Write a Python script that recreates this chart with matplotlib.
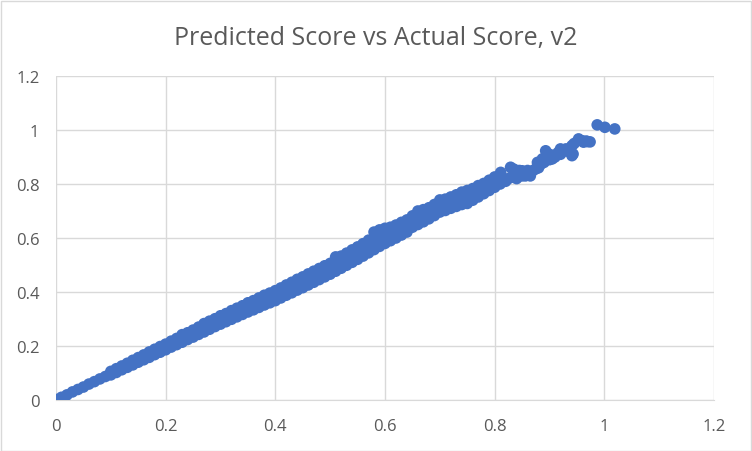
import matplotlib
matplotlib.use("Agg")
import matplotlib.pyplot as plt
from matplotlib.patches import Rectangle

# actual score (x) for the three dense tracks of the cloud
actual_mid = [0.00, 0.01, 0.02, 0.03, 0.04, 0.05, 0.06, 0.07, 0.08, 0.09,
              0.10, 0.11, 0.12, 0.13, 0.14, 0.15, 0.16, 0.17, 0.18, 0.19,
              0.20, 0.21, 0.22, 0.23, 0.24, 0.25, 0.26, 0.27, 0.28, 0.29,
              0.30, 0.31, 0.32, 0.33, 0.34, 0.35, 0.36, 0.37, 0.38, 0.39,
              0.40, 0.41, 0.42, 0.43, 0.44, 0.45, 0.46, 0.47, 0.48, 0.49,
              0.50, 0.51, 0.52, 0.53, 0.54, 0.55, 0.56, 0.57, 0.58, 0.59,
              0.60, 0.61, 0.62, 0.63, 0.64, 0.65, 0.66, 0.67, 0.68, 0.69,
              0.70, 0.71, 0.72, 0.73, 0.74, 0.75, 0.76, 0.77, 0.78, 0.79,
              0.80]
pred_mid = [0.002, 0.010, 0.019, 0.030, 0.039, 0.048, 0.059, 0.068, 0.078, 0.087,
            0.098, 0.108, 0.118, 0.127, 0.138, 0.147, 0.157, 0.167, 0.177, 0.187,
            0.196, 0.206, 0.216, 0.227, 0.236, 0.245, 0.256, 0.265, 0.276, 0.285,
            0.296, 0.304, 0.315, 0.323, 0.332, 0.343, 0.350, 0.360, 0.370, 0.378,
            0.386, 0.396, 0.407, 0.416, 0.427, 0.436, 0.446, 0.456, 0.466, 0.476,
            0.486, 0.500, 0.510, 0.521, 0.533, 0.544, 0.556, 0.568, 0.590, 0.600,
            0.608, 0.615, 0.624, 0.634, 0.645, 0.661, 0.675, 0.682, 0.691, 0.703,
            0.718, 0.723, 0.731, 0.738, 0.747, 0.752, 0.762, 0.773, 0.783, 0.795,
            0.807]

actual_hi = [0.10, 0.11, 0.12, 0.13, 0.14, 0.15, 0.16, 0.17, 0.18, 0.19,
             0.20, 0.21, 0.22, 0.23, 0.24, 0.25, 0.26, 0.27, 0.28, 0.29,
             0.30, 0.31, 0.32, 0.33, 0.34, 0.35, 0.36, 0.37, 0.38, 0.39,
             0.40, 0.41, 0.42, 0.43, 0.44, 0.45, 0.46, 0.47, 0.48, 0.49,
             0.50, 0.51, 0.52, 0.53, 0.54, 0.55, 0.56, 0.57, 0.58, 0.59,
             0.60, 0.61, 0.62, 0.63, 0.64, 0.65, 0.66, 0.67, 0.68, 0.69,
             0.70, 0.71, 0.72, 0.73, 0.74, 0.75, 0.76, 0.77, 0.78, 0.79,
             0.80]
pred_hi = [0.106, 0.116, 0.126, 0.136, 0.147, 0.157, 0.167, 0.178, 0.188, 0.198,
           0.207, 0.218, 0.228, 0.242, 0.249, 0.259, 0.270, 0.283, 0.292, 0.301,
           0.312, 0.320, 0.331, 0.340, 0.349, 0.360, 0.368, 0.378, 0.388, 0.396,
           0.405, 0.415, 0.426, 0.436, 0.447, 0.456, 0.467, 0.477, 0.487, 0.497,
           0.506, 0.530, 0.533, 0.544, 0.556, 0.567, 0.579, 0.592, 0.622, 0.630,
           0.636, 0.640, 0.648, 0.658, 0.667, 0.682, 0.700, 0.705, 0.712, 0.724,
           0.741, 0.744, 0.752, 0.760, 0.770, 0.776, 0.783, 0.794, 0.802, 0.814,
           0.826]

actual_lo = [0.10, 0.11, 0.12, 0.13, 0.14, 0.15, 0.16, 0.17, 0.18, 0.19,
             0.20, 0.21, 0.22, 0.23, 0.24, 0.25, 0.26, 0.27, 0.28, 0.29,
             0.30, 0.31, 0.32, 0.33, 0.34, 0.35, 0.36, 0.37, 0.38, 0.39,
             0.40, 0.41, 0.42, 0.43, 0.44, 0.45, 0.46, 0.47, 0.48, 0.49,
             0.50, 0.51, 0.52, 0.53, 0.54, 0.55, 0.56, 0.57, 0.58, 0.59,
             0.60, 0.61, 0.62, 0.63, 0.64, 0.65, 0.66, 0.67, 0.68, 0.69,
             0.70, 0.71, 0.72, 0.73, 0.74, 0.75, 0.76, 0.77, 0.78, 0.79,
             0.80]
pred_lo = [0.093, 0.102, 0.112, 0.121, 0.130, 0.140, 0.149, 0.158, 0.168, 0.177,
           0.186, 0.196, 0.205, 0.214, 0.224, 0.233, 0.243, 0.252, 0.262, 0.272,
           0.281, 0.290, 0.299, 0.308, 0.317, 0.326, 0.334, 0.343, 0.352, 0.360,
           0.368, 0.378, 0.388, 0.397, 0.407, 0.416, 0.426, 0.436, 0.446, 0.456,
           0.466, 0.477, 0.488, 0.499, 0.510, 0.521, 0.533, 0.545, 0.557, 0.569,
           0.580, 0.590, 0.600, 0.611, 0.622, 0.640, 0.650, 0.660, 0.671, 0.683,
           0.696, 0.702, 0.710, 0.717, 0.724, 0.728, 0.740, 0.752, 0.764, 0.776,
           0.788]

# the sparse upper end
actual_top = [0.81, 0.811, 0.815, 0.82, 0.825, 0.829, 0.83, 0.835, 0.84, 0.84,
              0.845, 0.85, 0.85, 0.856, 0.86, 0.865, 0.865, 0.87, 0.875, 0.878,
              0.88, 0.88, 0.885, 0.887, 0.89, 0.893, 0.895, 0.90, 0.90, 0.905,
              0.91, 0.915, 0.92, 0.92, 0.926, 0.93, 0.932, 0.941, 0.941, 0.943,
              0.945, 0.953, 0.96, 0.962, 0.967, 0.969, 0.974, 0.987, 1.001, 1.019]
pred_top = [0.800, 0.843, 0.810, 0.810, 0.820, 0.862, 0.825, 0.855, 0.835, 0.820,
            0.850, 0.849, 0.830, 0.830, 0.850, 0.830, 0.845, 0.850, 0.856, 0.880,
            0.870, 0.860, 0.875, 0.893, 0.880, 0.923, 0.905, 0.890, 0.910, 0.893,
            0.900, 0.915, 0.910, 0.930, 0.923, 0.930, 0.922, 0.942, 0.905, 0.911,
            0.950, 0.967, 0.960, 0.955, 0.959, 0.957, 0.956, 1.019, 1.010, 1.004]

ticks = [0, 0.2, 0.4, 0.6, 0.8, 1.0, 1.2]
tick_labels = ["0", "0.2", "0.4", "0.6", "0.8", "1", "1.2"]

grey = "#595959"
blue = "#4472C4"

fig = plt.figure(figsize=(7.52, 4.52), dpi=100)
ax = fig.add_axes([56 / 752, 51 / 452, 658 / 752, 324 / 452])

for xs, ys in [(actual_mid, pred_mid), (actual_hi, pred_hi),
               (actual_lo, pred_lo), (actual_top, pred_top)]:
    ax.scatter(xs, ys, s=70, color=blue, edgecolors="none", zorder=3)

ax.set_xlim(0, 1.2)
ax.set_ylim(0, 1.2)
ax.set_xticks(ticks)
ax.set_yticks(ticks)
ax.set_xticklabels(tick_labels)
ax.set_yticklabels(tick_labels)
ax.tick_params(length=0, labelsize=12, labelcolor=grey, labelfontfamily="Open Sans")
ax.tick_params(axis="y", pad=12)
ax.tick_params(axis="x", pad=13)
ax.grid(True, color="#D9D9D9", linewidth=1)
ax.set_axisbelow(True)
for side in ["top", "right", "left"]:
    ax.spines[side].set_visible(False)
ax.spines["bottom"].set_color("#D9D9D9")

fig.text(0.5, 1 - 38 / 452, "Predicted Score vs Actual Score, v2", ha="center", va="center",
         fontsize=18, color=grey, family="Open Sans")

fig.patches.append(Rectangle((0.5 / 752, 0.5 / 452), 750 / 752, 450 / 452,
                             transform=fig.transFigure, fill=False,
                             edgecolor="#D9D9D9", linewidth=1))

fig.savefig("out.png", dpi=100)
